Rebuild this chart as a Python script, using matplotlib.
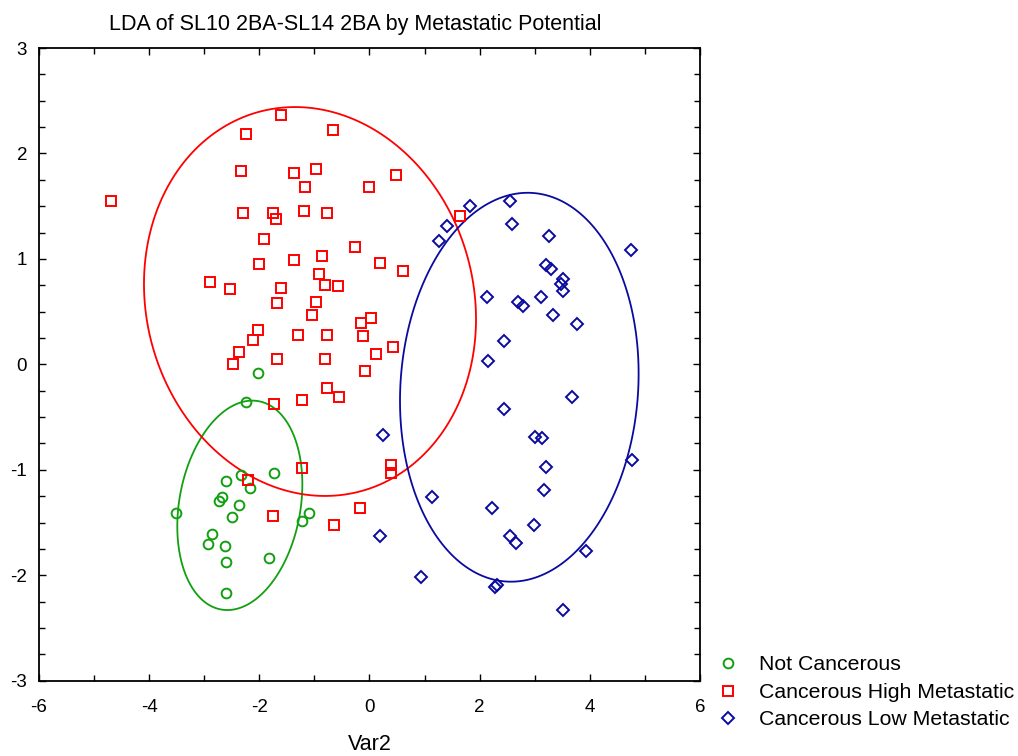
import numpy as np
import matplotlib
matplotlib.use("Agg")
import matplotlib.pyplot as plt
from matplotlib.lines import Line2D

plt.rcParams['font.family'] = ['Liberation Sans', 'DejaVu Sans']
plt.rcParams['axes.unicode_minus'] = False

# ---- data ----
green_x = [-2.02, -2.24, -2.33, -1.73, -2.60, -2.17, -2.68, -2.74, -2.36, -3.52,
           -2.50, -1.09, -1.22, -2.86, -2.93, -2.63, -2.60, -1.82, -2.60]
green_y = [-0.08, -0.36, -1.05, -1.03, -1.11, -1.17, -1.26, -1.30, -1.33, -1.41,
           -1.45, -1.41, -1.49, -1.61, -1.70, -1.72, -1.87, -1.84, -2.17]

red_x = [-1.61, -2.24, -0.66, -2.33, -1.37, -0.98, -1.17, 0.00, -4.69, -2.30,
         -1.76, -1.70, -1.19, -0.77, -1.91, -0.26, -0.87, -2.00, -1.37, -0.92,
         -2.90, -2.54, -1.61, -0.80, -0.57, -1.67, -0.98, -1.04, -0.15, 0.03,
         -2.03, -2.12, -1.29, -0.77, -0.12, -2.36, -1.67, -0.80, -2.48, 0.12,
         0.42, -0.09, -0.77, -0.56, -1.73, -1.22, -1.22, -2.20, -1.76, -0.17,
         -0.65, 0.39, 0.39, 0.49, 1.65, 0.19, 0.60]
red_y = [2.36, 2.18, 2.22, 1.83, 1.81, 1.85, 1.68, 1.68, 1.55, 1.44,
         1.44, 1.38, 1.45, 1.44, 1.19, 1.11, 1.03, 0.95, 0.99, 0.86,
         0.78, 0.71, 0.72, 0.75, 0.74, 0.58, 0.59, 0.47, 0.39, 0.44,
         0.33, 0.23, 0.28, 0.28, 0.27, 0.12, 0.05, 0.05, 0.00, 0.10,
         0.16, -0.06, -0.22, -0.31, -0.38, -0.34, -0.98, -1.10, -1.44, -1.36,
         -1.52, -0.95, -1.03, 1.80, 1.41, 0.96, 0.89]

blue_x = [1.83, 2.55, 1.41, 2.58, 1.26, 3.26, 4.74, 3.20, 3.30, 3.51,
          3.48, 3.51, 2.13, 2.70, 2.79, 3.11, 3.33, 3.77, 2.45, 2.16,
          3.68, 2.45, 0.25, 3.00, 3.14, 4.77, 3.20, 3.17, 1.14, 2.22,
          2.99, 2.55, 2.66, 3.93, 0.20, 0.93, 2.28, 2.32, 3.51]
blue_y = [1.50, 1.55, 1.31, 1.33, 1.17, 1.22, 1.08, 0.94, 0.90, 0.81,
          0.76, 0.70, 0.64, 0.59, 0.55, 0.64, 0.47, 0.38, 0.22, 0.03,
          -0.31, -0.42, -0.67, -0.69, -0.70, -0.91, -0.97, -1.19, -1.26, -1.36,
          -1.52, -1.63, -1.69, -1.77, -1.63, -2.02, -2.11, -2.09, -2.33]

# ellipses: centre, half extent in x and y, correlation
green_ell = (-2.354, -1.337, 1.135, 0.993, 0.20)
red_ell = (-1.08, 0.596, 3.014, 1.844, -0.09)
blue_ell = (2.720, -0.217, 2.166, 1.844, 0.07)

labels = ['Not Cancerous', 'Cancerous High Metastatic', 'Cancerous Low Metastatic']
c_green, c_red, c_blue = '#10A010', '#FF0000', '#0A0AA0'


def ellipse_xy(cx, cy, sx, sy, r, n=240):
    m = np.array([[sx * sx, r * sx * sy], [r * sx * sy, sy * sy]])
    L = np.linalg.cholesky(m)
    t = np.linspace(0, 2 * np.pi, n, endpoint=False)
    pts = L @ np.vstack([np.cos(t), np.sin(t)])
    return pts[0] + cx, pts[1] + cy


fig = plt.figure(figsize=(10.18, 7.56), dpi=100)
ax = fig.add_axes([0.0383, 0.0996, 0.6493, 0.8369])

for ell, col in [(green_ell, c_green), (red_ell, c_red), (blue_ell, c_blue)]:
    ex, ey = ellipse_xy(*ell)
    ax.fill(ex, ey, fill=False, edgecolor=col, lw=1.3, joinstyle='round')

ax.plot(green_x, green_y, 'o', ms=7, mfc='none', mec=c_green, mew=1.4, ls='none')
ax.plot(red_x, red_y, 's', ms=7, mfc='none', mec=c_red, mew=1.4, ls='none')
ax.plot(blue_x, blue_y, 'D', ms=6.3, mfc='none', mec=c_blue, mew=1.4, ls='none')

ax.set_xlim(-6, 6)
ax.set_ylim(-3, 3)
ax.set_xticks(np.arange(-6, 7, 2))
ax.set_xticks(np.arange(-6, 7, 1), minor=True)
ax.set_yticks(np.arange(-3, 4, 1))
ax.set_yticks(np.arange(-3, 3.01, 0.25), minor=True)
ax.tick_params(which='both', direction='in', top=True, right=True,
               labelsize=13.5, width=1)
ax.tick_params(which='major', length=5)
ax.tick_params(which='minor', length=4)
ax.tick_params(axis='x', which='major', pad=13)
ax.tick_params(axis='y', which='major', pad=8.5)
for s in ax.spines.values():
    s.set_linewidth(1.3)

ax.set_xlabel('Var2', fontsize=15.5, labelpad=13)
fig.text(355 / 1018, 1 - 30 / 756, 'LDA of SL10 2BA-SL14 2BA by Metastatic Potential',
         fontsize=15.5, ha='center', va='baseline')

handles = [
    Line2D([], [], marker='o', ls='none', ms=7, mfc='none', mec=c_green, mew=1.4),
    Line2D([], [], marker='s', ls='none', ms=7, mfc='none', mec=c_red, mew=1.4),
    Line2D([], [], marker='D', ls='none', ms=6.3, mfc='none', mec=c_blue, mew=1.4),
]
fig.legend(handles, labels, loc='upper left', bbox_to_anchor=(0.6945, 0.133),
           frameon=False, fontsize=15.3, handletextpad=0.45, labelspacing=0.4,
           borderaxespad=0, borderpad=0)

fig.savefig('out.png', dpi=100)
